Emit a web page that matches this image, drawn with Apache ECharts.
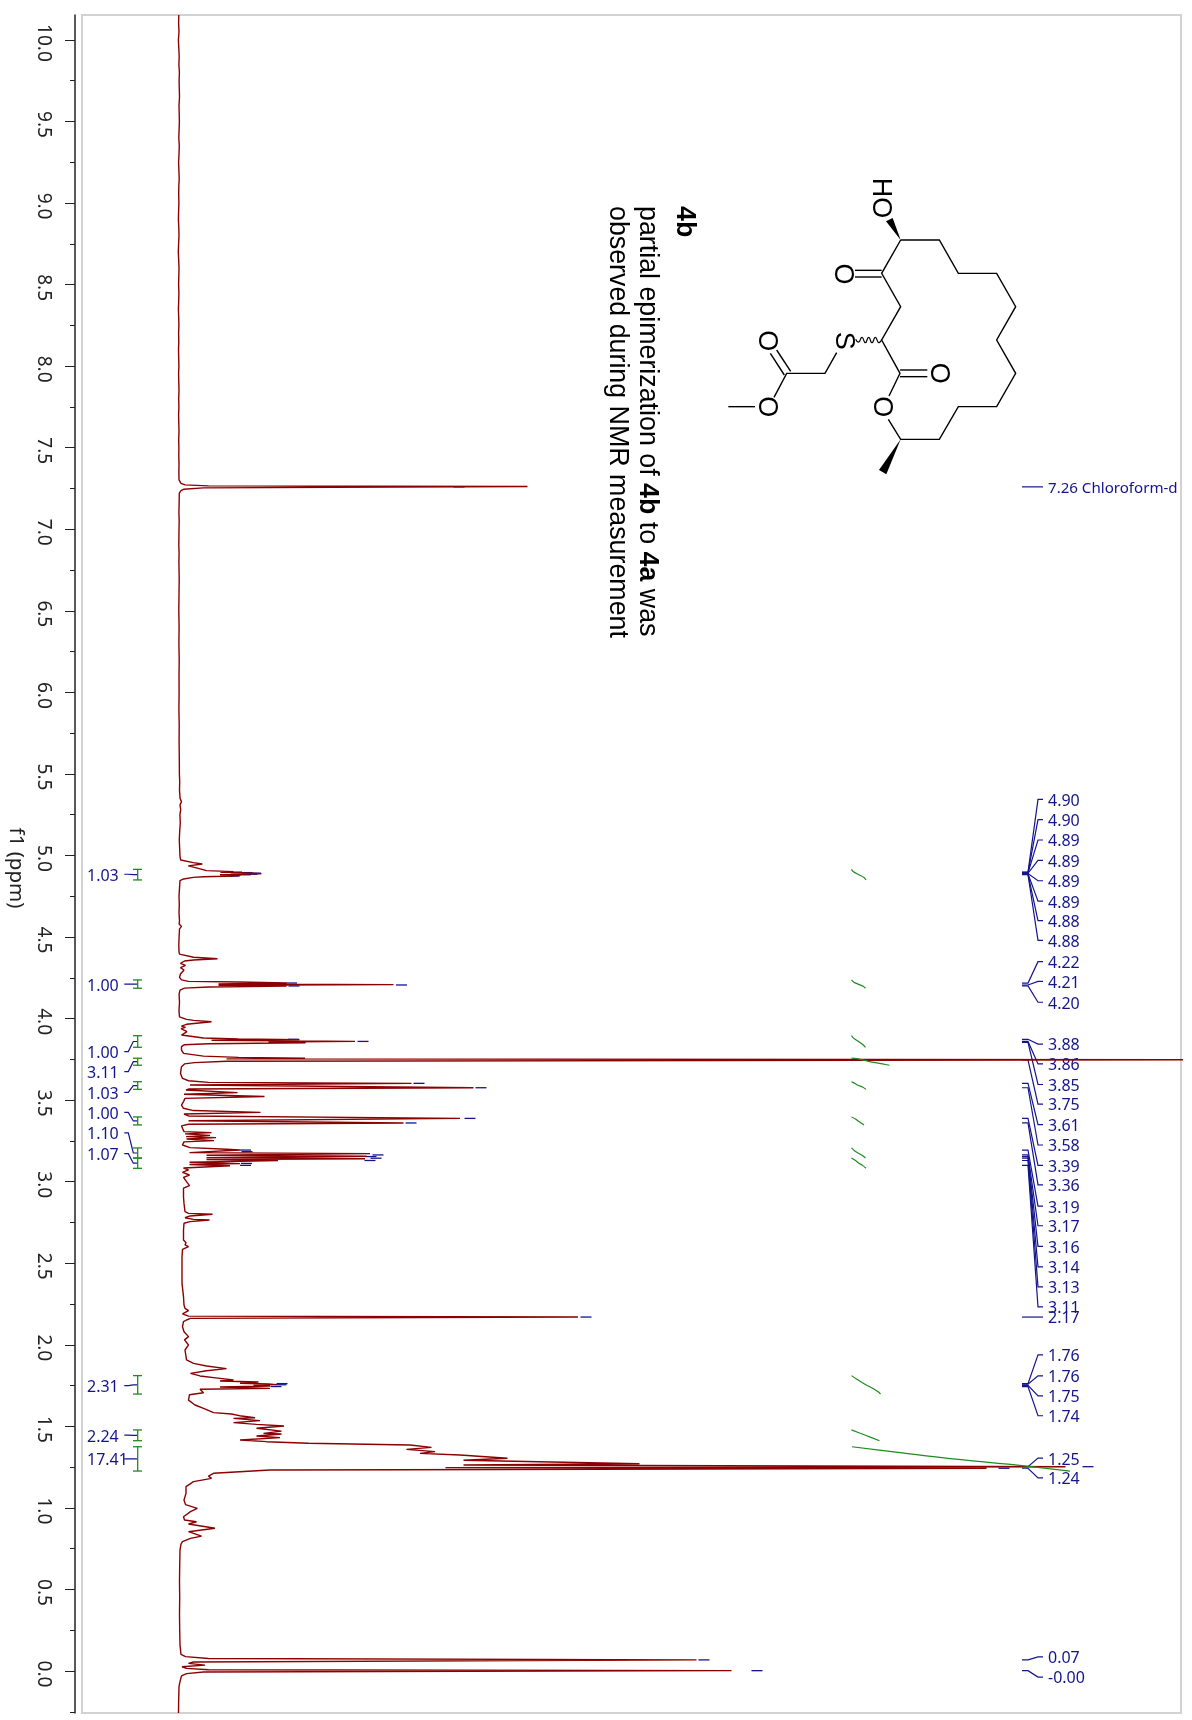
<!DOCTYPE html>
<html><head><meta charset="utf-8">
<style>html,body{margin:0;padding:0;background:#fff}#c{width:1192px;height:1720px}</style>
<script src="https://cdn.jsdelivr.net/npm/echarts@6/dist/echarts.min.js"></script>
</head><body><div id="c"></div>
<script>
// ---- DATA (ppm, intensity) ----
const spectrum = [
[10.153,.3],[10.10,.1],[10.05,.5],[10.0,-.1],[9.95,.3],[9.9,.7],[9.85,.4],[9.8,.9],[9.75,.6],[9.7,.8],[9.65,1],[9.6,.5],[9.55,.7],[9.5,.9],[9.45,.6],[9.4,.3],[9.35,.8],[9.3,.5],[9.25,.1],[9.2,.4],[9.15,.7],[9.1,.3],[9.05,.2],[9.0,.4],[8.95,.1],[8.9,-.1],[8.85,.3],[8.8,.5],[8.75,.1],[8.7,-.2],[8.65,.2],[8.6,.5],[8.55,.3],[8.5,.1],[8.45,.4],[8.4,.2],[8.35,-.1],[8.3,.2],[8.25,.4],[8.2,.1],[8.15,.3],[8.1,0],[8.05,.2],[8.0,.4],[7.95,.1],[7.9,.3],[7.85,.5],[7.8,.2],[7.75,.4],[7.7,.1],[7.65,.3],[7.6,.5],[7.55,.2],[7.5,.4],[7.45,.3],[7.4,.5],[7.35,.4],[7.303,.5],[7.282,2.5],[7.272,6.5],[7.266,30],[7.262,349],[7.254,25],[7.245,5],[7.237,2.5],[7.221,.8],
[7.15,.6],[7.1,.4],[7.05,.7],[7.0,.5],[6.9,.3],[6.85,.6],[6.8,.4],[6.7,.7],[6.6,.5],[6.5,.3],[6.4,.6],[6.3,.4],[6.2,.7],[6.1,.5],[6.0,.6],[5.9,.4],[5.8,.7],[5.7,.6],[5.6,.8],[5.5,.9],[5.45,1.2],[5.4,1],[5.35,1.6],[5.33,3],[5.31,1.5],[5.28,2.2],[5.25,1.4],[5.2,1.8],[5.15,1.2],[5.095,.8],
[4.993,1.5],[4.972,2.2],[4.956,14.8],[4.948,23.8],[4.936,9.8],[4.921,19.8],[4.907,28],[4.901,55],[4.897,42],[4.895,65],[4.892,52],[4.891,75],[4.889,83],[4.887,60],[4.885,72],[4.882,41.5],[4.878,62],[4.874,55],[4.87,25],[4.866,15],[4.856,5],[4.846,1.5],
[4.8,1],[4.75,.5],[4.7,.8],[4.65,.5],[4.6,1],[4.58,.6],[4.565,3],[4.56,1.5],[4.555,3.5],[4.55,1],[4.5,.6],[4.45,.3],[4.41,.5],[4.395,1],[4.384,2],[4.376,15],[4.367,39],[4.359,15],[4.353,6],[4.339,2],[4.326,7],[4.312,2],[4.298,5.5],[4.286,7],[4.273,2],[4.253,1],[4.237,3],[4.228,10],[4.224,60],[4.218,108],[4.212,40],[4.208,215],[4.205,100],[4.204,40],[4.2,108],[4.194,30],[4.187,6],[4.175,1.5],
[4.15,.6],[4.1,1],[4.05,.5],[4.01,1],[3.995,8],[3.989,15],[3.981,33],[3.973,34],[3.965,8],[3.954,3],[3.946,7],[3.938,2.5],[3.92,8.5],[3.899,3],[3.889,3],[3.881,25],[3.875,60],[3.871,121],[3.867,33],[3.86,176.5],[3.856,90],[3.852,127],[3.846,30],[3.84,6],[3.828,3],[3.807,3],[3.787,5],[3.77,25],[3.762,60],[3.757,126.5],[3.753,48],[3.7475,1100],[3.7445,1100],[3.738,48],[3.73,16],[3.722,6],[3.705,3],[3.664,2],[3.633,4],[3.619,10],[3.609,30],[3.603,233],[3.593,11.5],[3.576,295],[3.568,10],[3.562,7.5],[3.546,59],[3.536,5.5],[3.522,86],[3.511,6.5],[3.491,5],[3.47,3],[3.45,5],[3.436,15],[3.425,82],[3.415,5.5],[3.403,10],[3.388,281.5],[3.374,10],[3.36,225],[3.352,10],[3.342,3],[3.327,4],[3.307,5.5],[3.301,33],[3.293,6.5],[3.284,31.5],[3.276,7.5],[3.27,37.5],[3.262,8],[3.252,35.5],[3.244,5.5],[3.225,4],[3.209,11.5],[3.199,48],[3.194,61.5],[3.178,11],[3.172,191.5],[3.162,28],[3.156,188],[3.147,28],[3.141,186.5],[3.135,28],[3.129,99.5],[3.119,11],[3.111,61.5],[3.105,11],[3.098,51.5],[3.084,5],[3.072,10],[3.057,4],[3.041,11],[3.027,5],[3.0,8],[2.976,11],[2.96,5],
[2.949,5.5],[2.908,5],[2.867,5.5],[2.816,6.5],[2.806,10],[2.8,34],[2.79,11.5],[2.779,6.5],[2.769,15],[2.765,31],[2.755,11.5],[2.745,5.5],[2.704,5],[2.642,5],[2.626,7.5],[2.612,6.5],[2.602,10],[2.585,4],[2.54,3.5],[2.46,3.5],[2.377,3.5],[2.295,5],[2.244,5.5],[2.223,6.5],[2.209,10],[2.189,4],[2.176,10],[2.17,399.5],[2.162,12],[2.152,8],[2.142,5],[2.111,4],[2.08,5.5],[2.05,10],[2.03,6],[1.999,10],[1.968,6.5],[1.907,8],[1.886,15],[1.87,28],[1.854,48],[1.841,28],[1.825,12],[1.809,21.5],[1.794,41.5],[1.784,55],[1.778,41.5],[1.772,80],[1.764,61.5],[1.76,90],[1.756,98],[1.751,75],[1.747,91.5],[1.741,41.5],[1.733,91.5],[1.727,21.5],[1.706,25],[1.694,11],[1.661,10],[1.631,16.5],[1.61,25],[1.584,35],[1.576,53],[1.563,63],[1.553,76.5],[1.549,55],[1.535,81.5],[1.523,55],[1.512,78],[1.502,105.5],[1.488,78],[1.471,103],[1.457,85],[1.453,103],[1.441,78],[1.431,101.5],[1.416,61.5],[1.406,88],[1.396,130],[1.386,231.5],[1.371,253],[1.359,228],[1.345,256.5],[1.334,241.5],[1.324,281.5],[1.304,329],[1.292,285],[1.271,461],[1.263,285],[1.2526,887],[1.247,267],[1.243,808],[1.234,221],[1.232,91.5],[1.212,35],[1.195,30],[1.181,33],[1.161,15],[1.13,7.5],[1.089,7.5],[1.048,5.5],[1.02,7],
[.997,18.8],[.977,12],[.946,5],[.926,6],[.915,18],[.901,10],[.875,36.5],[.854,10],[.827,23],[.813,12],[.793,4],[.778,2.5],[.742,1.5],[.65,1.2],[.55,1],[.45,1.2],[.35,1],[.25,1.2],[.159,1.5],[.102,2.5],[.088,7],[.077,30],[.068,518],[.055,15],[.047,10],[.036,26.5],[.026,3.5],[.016,8],[.008,30],[.002,553],[-.006,25],[-.016,8],[-.03,3],[-.065,1.5],[-.096,.5],[-.15,.3],[-.2,.1],[-.2575,0]
];
const majorTicks = [0,.5,1,1.5,2,2.5,3,3.5,4,4.5,5,5.5,6,6.5,7,7.5,8,8.5,9,9.5,10];
const minorTicks = [-.25,.25,.75,1.25,1.75,2.25,2.75,3.25,3.75,4.25,4.75,5.25,5.75,6.25,6.75,7.25,7.75,8.25,8.75,9.25,9.75];

const peakLabels = ['7.26 Chloroform-d','4.90','4.90','4.89','4.89','4.89','4.89','4.88','4.88','4.22','4.21','4.20','3.88','3.86','3.85','3.75','3.61','3.58','3.39','3.36','3.19','3.17','3.16','3.14','3.13','3.11','2.17','1.76','1.76','1.75','1.74','1.25','1.24','0.07','-0.00'];
const peakPpm = [7.26,4.898,4.896,4.893,4.891,4.889,4.887,4.884,4.882,4.218,4.206,4.2,3.873,3.86,3.854,3.746,3.603,3.576,3.388,3.36,3.194,3.164,3.154,3.144,3.13,3.1,2.17,1.762,1.758,1.751,1.744,1.2526,1.243,.068,.002];
const labelPpm = [7.26,5.344,5.22,5.095,4.97,4.845,4.72,4.6,4.48,4.349,4.228,4.1,3.844,3.722,3.596,3.476,3.35,3.225,3.1,2.98,2.85,2.73,2.603,2.478,2.355,2.232,2.17,1.938,1.81,1.687,1.565,1.305,1.184,.086,-.037];
const peakDashes = [[4.898,52.5],[4.895,63],[4.891,71.5],[4.889,71.5],[4.885,68],[4.882,61.5],[4.874,50],[4.218,107.5],[4.206,217.5],[4.2,110],[3.873,109.5],[3.86,179],[3.854,116],[3.603,235],[3.576,297],[3.388,286],[3.36,227],[3.194,61.5],[3.184,63],[3.164,194],[3.154,187],[3.144,192],[3.13,186],[3.112,62.5],[3.1,61.5],[7.26,275],[2.17,402],[1.762,98],[1.755,97],[1.744,92],[1.2526,904],[1.243,820],[.068,520],[.002,573]];

const integralValues = ['1.03','1.00','1.00','3.11','1.03','1.00','1.10','1.07','2.31','2.24','17.41'];
const integralFrom = [4.915,4.237,3.895,3.757,3.613,3.397,3.207,3.145,1.811,1.478,1.375];
const integralTo = [4.85,4.186,3.824,3.714,3.566,3.348,3.145,3.082,1.698,1.412,1.226];
const integralLabelPpm = [4.885,4.211,3.798,3.675,3.548,3.425,3.299,3.172,1.75,1.446,1.3];
const integralCurves = [
[[4.915,673],[4.9,675],[4.883,680],[4.865,685.5],[4.85,687.5]],
[[4.237,673],[4.225,675],[4.21,680],[4.197,685],[4.186,687]],
[[3.895,673],[3.88,675],[3.86,680],[3.84,684.5],[3.824,687]],
[[3.757,673],[3.75,682],[3.735,692],[3.722,704],[3.714,711]],
[[3.613,673],[3.6,677],[3.59,680],[3.58,684],[3.566,687.5]],
[[3.397,673],[3.385,677],[3.37,680],[3.358,683],[3.348,685.5]],
[[3.207,673],[3.19,676],[3.175,680],[3.16,684],[3.145,687]],
[[3.145,673],[3.13,677],[3.115,680],[3.1,684],[3.082,687.5]],
[[1.811,673],[1.79,678],[1.76,686],[1.73,695],[1.71,700],[1.698,702]],
[[1.478,673],[1.445,687],[1.412,701]],
[[1.375,673.5],[1.339,721.5],[1.302,771.5],[1.265,834.5],[1.226,891.5]]
];

// ---- STYLES ----
const RED='#8b0000', NAVY='#14148c', GREEN='#1e8c1e', FONT='"Noto Sans", sans-serif', BLACK='#000';
const LABEL_NUDGE = 1.8;

// ---- molecule sketch (annotation, rotated with the page) ----
const m = (x,y)=>[590+x/3,160+y/3];
const pl = (pts,w)=>({type:'polyline',z:5,silent:true,shape:{points:pts.map(p=>m(p[0],p[1]))},style:{stroke:BLACK,lineWidth:w||1.4,fill:null}});
const rot = -Math.PI/2;
const tx = (text,cx,cy,size)=>{const p=m(cx,cy);return {type:'text',z:5,silent:true,x:p[0],y:p[1],rotation:rot,style:{text,font:(size||27)+'px "Liberation Sans"',fill:BLACK,align:'center',verticalAlign:'middle'}}};
const graphicEls = [
 pl([[932,240],[1048,240],[1105,340],[1220,340],[1277,440],[1220,540],[1277,640],[1220,740],[1105,740],[1048,838],[932,838],[895,778]]),
 pl([[897,708],[930,640],[875,540],[932,440],[875,340],[932,240]]),
 pl([[875,331],[795,331]]),pl([[875,351],[795,351]]),
 pl([[930,630],[1012,630]]),pl([[930,650],[1012,650]]),
 {type:'polygon',z:5,silent:true,shape:{points:[[932,240],[888,184],[908,174]].map(p=>m(p[0],p[1]))},style:{fill:BLACK}},
 {type:'polygon',z:5,silent:true,shape:{points:[[932,838],[867,930],[889,943]].map(p=>m(p[0],p[1]))},style:{fill:BLACK}},
 {type:'polyline',z:5,silent:true,shape:{smooth:.6,points:[[875,538],[866,548],[856,532],[846,548],[836,532],[826,548],[816,532],[806,546],[797,538]].map(p=>m(p[0],p[1]))},style:{stroke:BLACK,lineWidth:1.2,fill:null}},
 pl([[740,578],[705,640],[590,640],[552,712]]),
 pl([[602,634],[560,570]]),pl([[583,645],[541,580]]),
 pl([[495,740],[415,740]]),
 tx('O',758,342),tx('O',1045,640),tx('O',875,740),tx('O',528,542),tx('O',528,740),tx('S',760,542),tx('HO',872,114),
 {type:'text',z:5,silent:true,x:684,y:206,rotation:rot,style:{text:'4b',font:'bold 26.8px "Liberation Sans"',fill:BLACK,align:'left',verticalAlign:'middle'}},
 {type:'text',z:5,silent:true,x:647,y:206,rotation:rot,style:{text:'{a|partial epimerization of }{b|4b}{a| to }{b|4a}{a| was}',rich:{a:{font:'26.8px "Liberation Sans"',fill:BLACK},b:{font:'bold 26.8px "Liberation Sans"',fill:BLACK}},align:'left',verticalAlign:'middle'}},
 {type:'text',z:5,silent:true,x:617,y:206,rotation:rot,style:{text:'observed during NMR measurement',font:'26.8px "Liberation Sans"',fill:BLACK,align:'left',verticalAlign:'middle'}}
];

// ---- custom series ----
const stemSeries = {
 type:'custom',coordinateSystem:'cartesian2d',z:1,silent:true,
 data:peakPpm.map((p,i)=>[p,labelPpm[i],i]),
 renderItem(params,api){
  const i=api.value(2),a=api.value(0),b=api.value(1);
  const pts=[api.coord([843.5,a]),api.coord([849.5,a]),api.coord([859.5,b]),api.coord([864.5,b])];
  const t=api.coord([869.5,b]);
  const long=peakLabels[i].length>6;
  return {type:'group',children:[
   {type:'polyline',shape:{points:pts},style:{stroke:NAVY,lineWidth:1.2,fill:null}},
   {type:'text',style:{text:peakLabels[i],x:t[0],y:t[1]+LABEL_NUDGE,font:(long?'15.1px ':'16px ')+FONT,fill:NAVY,align:'left',verticalAlign:'middle'}}
  ]};
 }
};
const dashSeries = {
 type:'custom',coordinateSystem:'cartesian2d',z:2,silent:true,
 data:peakDashes,
 renderItem(params,api){
  const a=api.value(0),s=api.value(1);
  const p=api.coord([s,a]),q=api.coord([s+11,a]);
  return {type:'line',shape:{x1:p[0],y1:p[1],x2:q[0],y2:q[1]},style:{stroke:NAVY,lineWidth:1.3}};
 }
};
const integralSeries = {
 type:'custom',coordinateSystem:'cartesian2d',z:4,silent:true,
 data:integralFrom.map((f,i)=>[f,integralTo[i],integralLabelPpm[i],i]),
 renderItem(params,api){
  const f=api.value(0),t=api.value(1),l=api.value(2),i=api.value(3),mid=(f+t)/2;
  const c=(x,y)=>api.coord([x,y]);
  const ln=(A,B)=>({type:'line',shape:{x1:A[0],y1:A[1],x2:B[0],y2:B[1]},style:{stroke:GREEN,lineWidth:1.3}});
  const lab=c(-91.5,l);
  return {type:'group',children:[
   {type:'polyline',shape:{points:[c(-54.2,l),c(-50.2,l),c(-45.2,mid),c(-40.8,mid)]},style:{stroke:NAVY,lineWidth:1.2,fill:null}},
   ln(c(-40.8,f),c(-40.8,t)),ln(c(-45.5,f),c(-36.5,f)),ln(c(-45.5,t),c(-36.5,t)),
   {type:'text',style:{text:integralValues[i],x:lab[0],y:lab[1]+LABEL_NUDGE,font:'16px '+FONT,fill:NAVY,align:'left',verticalAlign:'middle'}}
  ]};
 }
};

const option = {
 animation:false,backgroundColor:'#fff',
 grid:{left:82,right:11,top:15,bottom:7,show:true,borderColor:'#d2d2d2',borderWidth:2,backgroundColor:'#fff',outerBoundsMode:'none',containLabel:false},
 xAxis:{type:'value',min:-96.5,max:1002.5,show:false},
 yAxis:[
  {type:'value',min:-.2575,max:10.153,position:'left',offset:7,
   name:'f1 (ppm)',nameLocation:'middle',nameGap:42,nameRotate:-90,nameTextStyle:{fontFamily:'Noto Sans',fontSize:20.5,color:'#222',padding:[0,0,0,8]},
   axisLine:{show:true,onZero:false,lineStyle:{color:'#222',width:1.5}},
   axisTick:{show:true,length:10,customValues:majorTicks,lineStyle:{color:'#222',width:1}},
   axisLabel:{show:true,rotate:-90,margin:22,padding:[0,0,0,6],customValues:majorTicks,fontFamily:'Noto Sans',fontSize:19,color:'#222',formatter:v=>v.toFixed(1)},
   splitLine:{show:false}},
  {type:'value',min:-.2575,max:10.153,position:'left',offset:7,
   axisLine:{show:false,onZero:false},
   axisTick:{show:true,length:5,customValues:minorTicks,lineStyle:{color:'#222',width:1}},
   axisLabel:{show:false},splitLine:{show:false}}
 ],
 graphic:{elements:graphicEls},
 series:[
  stemSeries,dashSeries,
  {type:'line',z:3,silent:true,showSymbol:false,symbol:'none',data:spectrum.map(d=>[d[1],d[0]]),lineStyle:{color:RED,width:1.4}},
  integralSeries
 ].concat(integralCurves.map(c=>({type:'line',z:4,silent:true,symbol:'none',smooth:.3,data:c.map(d=>[d[1],d[0]]),lineStyle:{color:GREEN,width:1.2}})))
};
const chart = echarts.init(document.getElementById('c'),null,{renderer:'canvas',width:1192,height:1720});
chart.setOption(option);
</script></body></html>
